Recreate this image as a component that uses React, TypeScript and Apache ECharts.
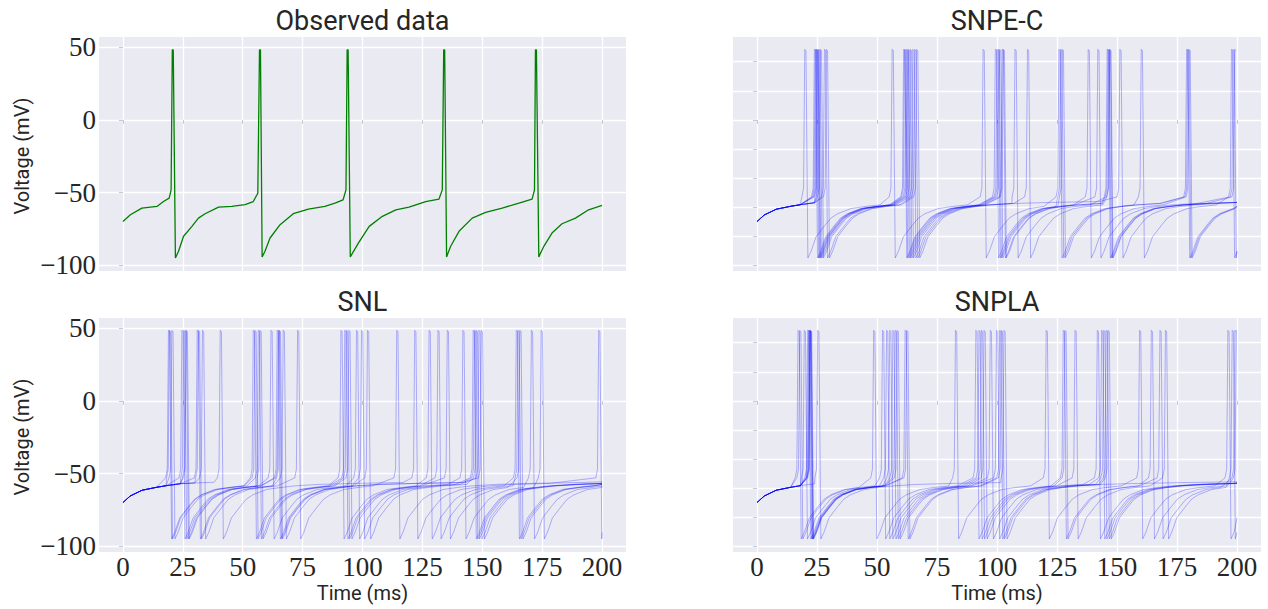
import React, { useEffect, useRef } from "react";
import * as echarts from "echarts";

// ---------- axes ----------
const TIME_TICKS = [0, 25, 50, 75, 100, 125, 150, 175, 200];
const LEFT_V_TICKS = [-100, -50, 0, 50];
const RIGHT_V_TICKS = [-100, -80, -60, -40, -20, 0, 20, 40];
const PANEL_TITLES = ["Observed data", "SNPE-C", "SNL", "SNPLA"];
const Y_LABEL = "Voltage (mV)";
const X_LABEL = "Time (ms)";
const T_END = 200;

// ---------- observed trace (t in ms, V in mV) ----------
const OBS_T = [0, 3.1, 7.9, 14.2, 16.9, 19.3, 20.1, 20.6, 21.0, 21.9, 23.2, 25.3, 28.8, 31.5, 34.3, 39.9, 45.4, 51.0, 54.4, 56.3, 57.0, 57.4, 58.1, 59.3, 61.4, 65.6, 71.1, 77.4, 84.3, 88.5, 91.9, 93.1, 93.6, 94.0, 94.9, 98.4, 102.8, 108.3, 113.9, 119.4, 126.4, 131.9, 133.3, 133.9, 134.3, 135.1, 136.8, 140.3, 145.8, 151.4, 158.3, 165.3, 170.8, 171.8, 172.2, 172.6, 173.6, 175.7, 179.1, 183.3, 188.9, 194.4, 200];
const OBS_V = [-70, -65.3, -60.7, -59.6, -56.2, -53.9, -48.2, 48.2, 48.2, -95, -90.4, -80.1, -73.3, -67.6, -64.6, -60, -59.6, -58.4, -56.2, -50.5, 48.2, 48.2, -94.3, -90.4, -81.3, -72.1, -64.6, -61.4, -59.6, -57.3, -55, -48.2, 48.2, 48.2, -94.3, -84.5, -73.3, -66.4, -61.9, -60, -56.2, -54.6, -48.2, 48.2, 48.2, -94.3, -87, -76.7, -67.6, -63.7, -60.7, -57.3, -54.6, -48.2, 48.2, 48.2, -94.3, -87, -77.9, -71.5, -67.6, -61.9, -58.9];

// ---------- waveform pieces ----------
const ONSET_T = [0, 3, 8, 14, 18, 24, 30, 38];
const ONSET_V = [-70, -65.5, -61.5, -59.5, -58.4, -57, -56.5, -56];
const SPIKE_DT = [-1.2, -0.5, 0, 0.5];
const SPIKE_V = [-53, -47, 48.5, 47.5];
const TROUGH_DELAY = 1.3;
const REC_DT = [0, 1.3, 3.4, 6.9, 9.6, 12.4, 18, 24, 30, 40, 55, 75, 100, 130];
const REC_V = [-95, -90.5, -80.5, -73, -67.6, -64.6, -61, -59.6, -58.5, -57.5, -56.8, -56.2, -55.7, -55.5];

// ---------- spike times of the posterior samples (ms) ----------
const SNPEC_SPIKES = [
  [19.9, 56.3, 94.2, 125.8, 160.1, 197.7],
  [23.9, 61.1, 99.3, 126.5, 179.0],
  [24.3, 61.5, 100.0, 127.2, 179.5],
  [24.7, 62.1, 100.5, 138.0, 180.0],
  [25.0, 62.6, 101.1, 142.0, 198.4],
  [25.3, 63.2, 102.2, 145.9, 199.1],
  [25.8, 63.9, 102.6, 146.3],
  [26.4, 64.9, 107.5, 146.8],
  [28.1, 65.7, 112.7, 147.0],
  [28.9, 66.5, 151.2],
];
const SNL_SPIKES = [
  [19.0, 54.4, 91.0, 127.8, 164.2],
  [19.4, 55.1, 92.6, 131.5, 164.9],
  [20.4, 56.5, 93.3, 135.4, 165.7],
  [24.6, 57.2, 94.3, 141.9, 170.5],
  [25.3, 61.8, 97.5, 146.2, 174.6],
  [26.0, 64.4, 99.6, 146.8],
  [26.4, 64.9, 102.1, 147.5],
  [31.0, 65.3, 149.6],
  [31.5, 66.9, 148.6],
  [33.2, 72.9, 114.3],
  [40.6, 121.8, 198.6],
];
const SNPLA_SPIKES = [
  [17.1, 48.6, 82.7, 120.5, 159.4, 196.2],
  [17.8, 52.3, 91.2, 127.6, 164.3, 198.0],
  [19.7, 54.0, 92.5, 128.3, 167.9, 199.1],
  [21.1, 55.3, 93.5, 132.5, 170.2, 199.7],
  [21.5, 56.6, 94.6, 141.8],
  [21.8, 57.6, 97.2, 143.6],
  [22.0, 58.4, 99.8, 144.5],
  [22.1, 61.7, 101.1, 145.5],
  [22.3, 62.4, 101.8, 146.3],
  [25.3, 102.9],
];

function buildTrace(spikes: number[]): [number, number][] {
  const pts: [number, number][] = [];
  const first = spikes[0];
  for (let i = 0; i < ONSET_T.length; i++) {
    if (ONSET_T[i] < first + SPIKE_DT[0]) pts.push([ONSET_T[i], ONSET_V[i]]);
  }
  spikes.forEach((s, k) => {
    for (let j = 0; j < SPIKE_DT.length; j++) {
      const t = s + SPIKE_DT[j];
      if (t <= T_END) pts.push([t, SPIKE_V[j]]);
    }
    const trough = s + TROUGH_DELAY;
    const next = k + 1 < spikes.length ? spikes[k + 1] + SPIKE_DT[0] : Infinity;
    for (let j = 0; j < REC_DT.length; j++) {
      const t = trough + REC_DT[j];
      if (t >= next) break;
      if (t > T_END) {
        if (j > 0) pts.push([T_END, REC_V[j]]);
        break;
      }
      pts.push([t, REC_V[j]]);
    }
  });
  return pts;
}

const TXT = "#262626";
const GRIDS = [
  { left: 99, top: 37, width: 527, height: 234 },
  { left: 733, top: 37, width: 528, height: 234 },
  { left: 99, top: 318, width: 527, height: 234 },
  { left: 733, top: 318, width: 528, height: 234 },
];

export default function App() {
  const ref = useRef<HTMLDivElement>(null);
  useEffect(() => {
    if (!ref.current) return;
    const chart = echarts.init(ref.current, undefined, { renderer: "svg" });
    const tickStyle = { color: "#c8c8d0", width: 1 };
    const xAxis = GRIDS.map((_, i) => ({
      type: "value",
      gridIndex: i,
      min: -10,
      max: 210,
      axisLine: { show: false },
      axisTick: { show: true, customValues: TIME_TICKS, length: 4, lineStyle: tickStyle },
      axisLabel: {
        show: i >= 2,
        customValues: TIME_TICKS,
        fontFamily: "Liberation Serif",
        fontSize: 27,
        lineHeight: 20,
        color: TXT,
        margin: 5,
      },
      splitLine: { show: true, lineStyle: { color: "#ffffff", width: 1.3 } },
    }));
    const yAxis = GRIDS.map((_, i) => {
      const ticks = i % 2 === 0 ? LEFT_V_TICKS : RIGHT_V_TICKS;
      return {
        type: "value",
        gridIndex: i,
        min: -104,
        max: 57,
        axisLine: { show: false },
        axisTick: { show: true, customValues: ticks, length: 4, lineStyle: tickStyle },
        axisLabel: {
          show: i % 2 === 0,
          customValues: ticks,
          fontFamily: "Liberation Serif",
          fontSize: 27,
          lineHeight: 20,
          color: TXT,
          margin: 3,
          formatter: (v: number) => String(v).replace("-", "\u2212"),
        },
        splitLine: { show: true, lineStyle: { color: "#ffffff", width: 1.3 } },
      };
    });

    const series: any[] = [];
    series.push({
      type: "line",
      xAxisIndex: 0,
      yAxisIndex: 0,
      data: OBS_T.map((t, i) => [t, OBS_V[i]]),
      showSymbol: false,
      lineStyle: { color: "#008000", width: 1.3 },
      silent: true,
    });
    const groups = [SNPEC_SPIKES, SNL_SPIKES, SNPLA_SPIKES];
    const axisIdx = [1, 2, 3];
    groups.forEach((g, gi) => {
      g.forEach((sp) => {
        series.push({
          type: "line",
          xAxisIndex: axisIdx[gi],
          yAxisIndex: axisIdx[gi],
          data: buildTrace(sp),
          showSymbol: false,
          lineStyle: { color: "#0000ff", width: 1, opacity: 0.28 },
          silent: true,
        });
      });
    });

    const titleY = [21, 21, 302, 302];
    const graphic: any[] = [];
    GRIDS.forEach((g, i) => {
      graphic.push({
        type: "text",
        x: g.left + g.width / 2,
        y: titleY[i],
        style: {
          text: PANEL_TITLES[i],
          fontFamily: "Roboto",
          fontSize: 27,
          fill: TXT,
          align: "center",
          verticalAlign: "middle",
        },
      });
    });
    [0, 2].forEach((i) => {
      const g = GRIDS[i];
      graphic.push({
        type: "text",
        x: 22,
        y: g.top + g.height / 2 + 2,
        rotation: Math.PI / 2,
        style: {
          text: Y_LABEL,
          fontFamily: "Roboto",
          fontSize: 20,
          fill: TXT,
          align: "center",
          verticalAlign: "middle",
        },
      });
    });
    [2, 3].forEach((i) => {
      const g = GRIDS[i];
      graphic.push({
        type: "text",
        x: g.left + g.width / 2,
        y: 593,
        style: {
          text: X_LABEL,
          fontFamily: "Roboto",
          fontSize: 20,
          lineHeight: 20,
          fill: TXT,
          align: "center",
          verticalAlign: "middle",
        },
      });
    });

    chart.setOption({
      animation: false,
      backgroundColor: "#ffffff",
      grid: GRIDS.map((g) => ({
        ...g,
        show: true,
        backgroundColor: "#EAEAF2",
        borderWidth: 0,
        containLabel: false,
      })),
      xAxis,
      yAxis,
      series,
      graphic,
    });
    return () => chart.dispose();
  }, []);
  return (
    <div
      ref={ref}
      style={{ position: "absolute", left: 0, top: 0, width: 1268, height: 609 }}
    />
  );
}
